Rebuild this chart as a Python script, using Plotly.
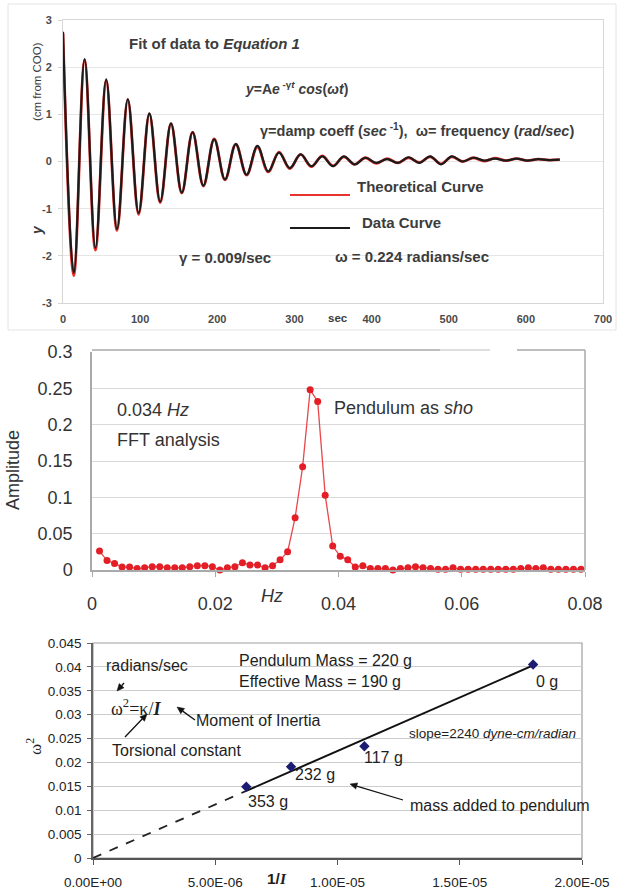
import numpy as np
import plotly.graph_objects as go

W, H = 620, 890

# ---- Panel 1: damped oscillation, turning points (sec, cm from COO) ----
t_turn = [0, 14, 28, 42, 56, 70, 84, 98, 112, 126, 140, 154, 168, 182, 196, 210,
          224, 238, 252, 266, 280, 294, 308, 322, 336, 350, 364, 378, 392, 406,
          420, 434, 448, 462, 476, 490, 504, 518, 532, 546, 560, 574, 588, 602,
          616, 630, 644]
y_theory = [2.72, -2.42, 2.15, -1.88, 1.71, -1.46, 1.31, -1.12, 1.01, -0.87, 0.80,
            -0.67, 0.62, -0.52, 0.48, -0.39, 0.37, -0.29, 0.31, -0.22, 0.20, -0.15,
            0.15, -0.11, 0.12, -0.09, 0.10, -0.06, 0.08, -0.04, 0.06, -0.03, 0.08,
            -0.02, 0.10, -0.05, 0.10, 0.00, 0.08, 0.01, 0.07, 0.02, 0.06, 0.02,
            0.05, 0.03, 0.04]
y_data = [2.75, -2.36, 2.17, -1.83, 1.74, -1.43, 1.32, -1.09, 1.02, -0.85, 0.81,
          -0.66, 0.62, -0.51, 0.47, -0.38, 0.37, -0.28, 0.33, -0.21, 0.19, -0.14,
          0.15, -0.10, 0.11, -0.10, 0.11, -0.06, 0.08, -0.03, 0.05, -0.03, 0.09,
          -0.03, 0.11, -0.06, 0.11, 0.00, 0.08, 0.02, 0.06, 0.02, 0.06, 0.02,
          0.05, 0.03, 0.04]
t_ticks = [0, 100, 200, 300, 400, 500, 600, 700]
y1_ticks = [-3, -2, -1, 0, 1, 2, 3]
y1_labels = ["-3", "-2", "-1", "0", "1", "2", "3"]

# ---- Panel 2: FFT spectrum ----
freq = [0.00122, 0.00244, 0.00366, 0.00488, 0.0061, 0.00732, 0.00854, 0.00977,
        0.01099, 0.01221, 0.01343, 0.01465, 0.01587, 0.01709, 0.01831, 0.01953,
        0.02075, 0.02197, 0.02319, 0.02441, 0.02563, 0.02686, 0.02808, 0.0293,
        0.03052, 0.03174, 0.03296, 0.03418, 0.0354, 0.03662, 0.03784, 0.03906,
        0.04028, 0.0415, 0.04272, 0.04395, 0.04517, 0.04639, 0.04761, 0.04883,
        0.05005, 0.05127, 0.05249, 0.05371, 0.05493, 0.05615, 0.05737, 0.05859,
        0.05981, 0.06104, 0.06226, 0.06348, 0.0647, 0.06592, 0.06714, 0.06836,
        0.06958, 0.0708, 0.07202, 0.07324, 0.07446, 0.07568, 0.0769, 0.07813,
        0.07935]
amplitude = [0.026, 0.013, 0.009, 0.004, 0.004, 0.002, 0.003, 0.0045, 0.0045,
             0.003, 0.003, 0.003, 0.0045, 0.006, 0.006, 0.0045, 0.000, 0.003,
             0.0045, 0.010, 0.007, 0.007, 0.003, 0.006, 0.014, 0.025, 0.072,
             0.142, 0.248, 0.232, 0.103, 0.033, 0.019, 0.014, 0.004, 0.006,
             0.002, 0.002, 0.002, 0.000, 0.002, 0.003, 0.0045, 0.003, 0.002,
             0.001, 0.001, 0.003, 0.001, 0.001, 0.001, 0.001, 0.001, 0.001,
             0.001, 0.001, 0.002, 0.003, 0.002, 0.003, 0.001, 0.001, 0.001,
             0.001, 0.001]
f_ticks = [0, 0.02, 0.04, 0.06, 0.08]
f_labels = ["0", "0.02", "0.04", "0.06", "0.08"]
a_ticks = [0, 0.05, 0.1, 0.15, 0.2, 0.25, 0.3]
a_labels = ["0", "0.05", "0.1", "0.15", "0.2", "0.25", "0.3"]

# ---- Panel 3: omega^2 vs 1/I ----
inv_I = [6.27e-6, 8.10e-6, 1.11e-5, 1.80e-5]
omega_sq = [0.0149, 0.0191, 0.0234, 0.0405]
mass_added = ["353 g", "232 g", "117 g", "0 g"]
slope = 2240  # dyne-cm/radian
i_ticks = [0, 5e-6, 1e-5, 1.5e-5, 2e-5]
i_labels = ["0.00E+00", "5.00E-06", "1.00E-05", "1.50E-05", "2.00E-05"]
w_ticks = [0, 0.005, 0.01, 0.015, 0.02, 0.025, 0.03, 0.035, 0.04, 0.045]
w_labels = ["0", "0.005", "0.01", "0.015", "0.02", "0.025", "0.03", "0.035",
            "0.04", "0.045"]

SANS = "Liberation Sans, Arial, sans-serif"
SERIF = "Liberation Serif, Times New Roman, serif"


def px(x):
    return x / W


def py(y):
    return 1 - y / H


fig = go.Figure()

# damped oscillation curves
fig.add_trace(go.Scatter(x=t_turn, y=y_theory, mode="lines", xaxis="x", yaxis="y",
                         line=dict(color="#e8322e", width=2.8, shape="spline",
                                   smoothing=1.05), hoverinfo="skip"))
fig.add_trace(go.Scatter(x=t_turn, y=y_data, mode="lines", xaxis="x", yaxis="y",
                         line=dict(color="#1b1b1b", width=2.2, shape="spline",
                                   smoothing=1.05), hoverinfo="skip"))

# FFT spectrum
fig.add_trace(go.Scatter(x=freq, y=amplitude, mode="lines+markers", xaxis="x2",
                         yaxis="y2", cliponaxis=False,
                         line=dict(color="#e8474b", width=1.3),
                         marker=dict(color="#e41e26", size=7)))

# linear fit omega^2 = kappa / I, dashed toward the origin
fit_dash_x = np.array([0.0, inv_I[0]])
fit_solid_x = np.array([inv_I[0], inv_I[-1]])
fig.add_trace(go.Scatter(x=fit_dash_x, y=slope * fit_dash_x, mode="lines",
                         xaxis="x3", yaxis="y3",
                         line=dict(color="#222222", width=1.8, dash="dash")))
fig.add_trace(go.Scatter(x=fit_solid_x, y=slope * fit_solid_x, mode="lines",
                         xaxis="x3", yaxis="y3",
                         line=dict(color="#111111", width=2)))
fig.add_trace(go.Scatter(x=inv_I, y=omega_sq, mode="markers", xaxis="x3", yaxis="y3",
                         cliponaxis=False,
                         marker=dict(symbol="diamond", size=8, color="#1c1c72")))

annotations = []
shapes = []


def note(text, x, y, size, color="#3a3a3a", anchor="left", font=SANS, weight="normal",
         angle=0):
    annotations.append(dict(text=text, x=px(x), y=py(y), xref="paper", yref="paper",
                            xanchor=anchor, yanchor="middle", showarrow=False,
                            textangle=angle,
                            font=dict(family=font, size=size, color=color,
                                      weight=weight)))


def arrow(head, tail, color="#111111"):
    hx, hy = head
    tx, ty = tail
    d = np.hypot(hx - tx, hy - ty)
    ux, uy = (hx - tx) / d, (hy - ty) / d
    nx, ny = -uy, ux
    L, Wd = 7.0, 3.2
    bx, by = hx - L * ux, hy - L * uy
    shapes.append(dict(type="line", xref="paper", yref="paper", x0=px(tx), y0=py(ty),
                       x1=px(bx), y1=py(by), line=dict(color=color, width=1.3)))
    path = "M {} {} L {} {} L {} {} Z".format(
        px(hx), py(hy), px(bx + Wd * nx), py(by + Wd * ny),
        px(bx - Wd * nx), py(by - Wd * ny))
    shapes.append(dict(type="path", xref="paper", yref="paper", path=path,
                       fillcolor=color, line=dict(color=color, width=0.5)))


# panel 1 text
C1 = "#3c3c3c"
note("Fit of data to <i>Equation 1</i>", 127, 43, 15, C1, weight="bold")
note("<i>y</i>=A<i>e</i><sup> -γ<i>t</i></sup> <i>cos</i>(<i>ωt</i>)", 243, 88, 14,
     C1, weight="bold")
note("γ=damp coeff (<i>sec</i><sup> -1</sup>),  ω= frequency (<i>rad/sec</i>)", 258,
     130, 14.5, C1, weight="bold")
note("Theoretical Curve", 355, 186, 15, C1, weight="bold")
note("Data Curve", 360, 222, 15, C1, weight="bold")
note("γ = 0.009/sec", 177, 257, 15, C1, weight="bold")
note("ω = 0.224 radians/sec", 333, 256, 15, C1, weight="bold")
note("sec", 338, 318, 11.5, C1, anchor="center", weight="bold")
note("<i>y</i>", 37, 230, 14, C1, anchor="center", weight="bold", angle=-90)
note("(cm from COO)", 37, 82, 11.5, C1, anchor="center", angle=-90)

# panel 2 text
C2 = "#333333"
note("0.034 <i>Hz</i>", 115, 410, 18, C2)
note("FFT analysis", 115, 440, 18, C2)
note("Pendulum as <i>sho</i>", 332, 408, 18, C2)
note("<i>Hz</i>", 272, 596, 18, C2, anchor="center")
note("Amplitude", 13, 470, 18, C2, anchor="center", angle=-90)

# panel 3 text
C3 = "#1e1e1e"
note("Pendulum Mass = 220 g", 237, 660, 16, C3)
note("Effective Mass = 190 g", 237, 681, 16, C3)
note("radians/sec", 104, 665, 16, C3)
note("ω<sup>2</sup>=κ/<b><i>I</i></b>", 109, 707, 18, C3, font=SERIF)
note("Moment of Inertia", 194, 720, 16, C3)
note("Torsional constant", 110, 750, 16, C3)
note("slope=2240 <i>dyne-cm/radian</i>", 407, 733, 13.5, C3)
note("mass added to pendulum", 408, 805, 16, C3)
note("<b>1/</b><span style=\"font-family:Liberation Serif\"><b><i>I</i></b></span>",
     277, 878, 15.5, C3, anchor="center")
note("ω<sup>2</sup>", 34, 747, 17, C3, anchor="center", font=SERIF, angle=-90)

arrow((117, 691), (124, 683))
arrow((177, 707), (195, 720))
arrow((147, 714), (125, 737))
arrow((350, 784), (403, 800))

# point labels (mass added) next to each marker
label_shift = [(0, -15), (2, -8), (-2, -11), (1, -17)]
for xv, yv, lab, (dx, dy) in zip(inv_I, omega_sq, mass_added, label_shift):
    annotations.append(dict(text=lab, x=xv, y=yv, xref="x3", yref="y3",
                            xanchor="left", yanchor="middle", showarrow=False,
                            xshift=dx, yshift=dy,
                            font=dict(family=SANS, size=16, color=C3)))

shapes += [
    # outer frame of the top chart
    dict(type="rect", xref="paper", yref="paper", x0=px(8), x1=px(616), y0=py(330),
         y1=py(4), line=dict(color="#e4e4e4", width=1)),
    # legend samples
    dict(type="line", xref="paper", yref="paper", x0=px(290), x1=px(350),
         y0=py(195), y1=py(195), line=dict(color="#e8322e", width=2)),
    dict(type="line", xref="paper", yref="paper", x0=px(290), x1=px(350),
         y0=py(228), y1=py(228), line=dict(color="#1b1b1b", width=2)),
    # top and right border of the spectrum plot
    dict(type="line", xref="paper", yref="paper", x0=px(92), x1=px(440),
         y0=py(350), y1=py(350), line=dict(color="#a9a9a9", width=1.5)),
    dict(type="line", xref="paper", yref="paper", x0=px(440), x1=px(490),
         y0=py(350), y1=py(350), line=dict(color="#d4d4d4", width=1.5)),
    dict(type="line", xref="paper", yref="paper", x0=px(517), x1=px(585),
         y0=py(350), y1=py(350), line=dict(color="#a9a9a9", width=1.5)),
    dict(type="line", xref="paper", yref="paper", x0=px(585), x1=px(585),
         y0=py(570), y1=py(350), line=dict(color="#a9a9a9", width=1.5)),
    # frame of the bottom plot
    dict(type="rect", xref="paper", yref="paper", x0=px(93), x1=px(582), y0=py(858),
         y1=py(643), line=dict(color="#a0a0a0", width=1.2), layer="below"),
]

tick1 = dict(family=SANS, size=11, color="#4a4a4a", weight="bold")
tick2 = dict(family=SANS, size=18, color="#333333")
tick3 = dict(family=SANS, size=13.5, color="#222222")

fig.update_layout(
    width=W, height=H, margin=dict(l=0, r=0, t=0, b=0, autoexpand=False),
    paper_bgcolor="white", plot_bgcolor="white", showlegend=False,
    annotations=annotations, shapes=shapes,
    xaxis=dict(domain=[px(63), px(603)], anchor="y", range=[0, 700], automargin=False,
               tickvals=t_ticks, tickfont=tick1, showgrid=False, zeroline=False,
               showline=True, linecolor="#d6d6d6", mirror=True, ticks="",
               ticklabelstandoff=6),
    yaxis=dict(domain=[py(303), py(20)], anchor="x", range=[-3, 3], automargin=False,
               tickvals=y1_ticks, ticktext=y1_labels, tickfont=tick1, showgrid=True,
               gridcolor="#e6e6e6", zeroline=False, showline=True,
               linecolor="#d6d6d6", mirror=True, ticks="outside", ticklen=4,
               tickcolor="#d6d6d6", ticklabelstandoff=4),
    xaxis2=dict(domain=[px(92), px(585)], anchor="y2", range=[0, 0.08],
                automargin=False, tickvals=f_ticks, ticktext=f_labels, tickfont=tick2,
                showgrid=False, zeroline=False, showline=True, linecolor="#a9a9a9",
                linewidth=1.5, ticks="outside", ticklen=5, tickcolor="#a9a9a9",
                ticklabelstandoff=12),
    yaxis2=dict(domain=[py(570), py(352)], anchor="x2", range=[0, 0.3],
                automargin=False, tickvals=a_ticks, ticktext=a_labels, tickfont=tick2,
                showgrid=True, gridcolor="#d9d9d9", gridwidth=1.2, zeroline=False,
                showline=True, linecolor="#a9a9a9", linewidth=1.5, ticks="",
                ticklabelstandoff=14),
    xaxis3=dict(domain=[px(93), px(582)], anchor="y3", range=[0, 2e-5],
                automargin=False, tickvals=i_ticks, ticktext=i_labels, tickfont=tick3,
                showgrid=False, zeroline=False, showline=True, linecolor="#555555",
                linewidth=2, ticks="outside", ticklen=5, tickcolor="#555555",
                ticklabelstandoff=6),
    yaxis3=dict(domain=[py(858), py(643)], anchor="x3", range=[0, 0.045],
                automargin=False, tickvals=w_ticks, ticktext=w_labels, tickfont=tick3,
                showgrid=True, gridcolor="#cccccc", zeroline=False, showline=True,
                linecolor="#666666", linewidth=1.5, ticks="outside", ticklen=4,
                tickcolor="#666666", ticklabelstandoff=3),
)

fig.write_html("out.html")
